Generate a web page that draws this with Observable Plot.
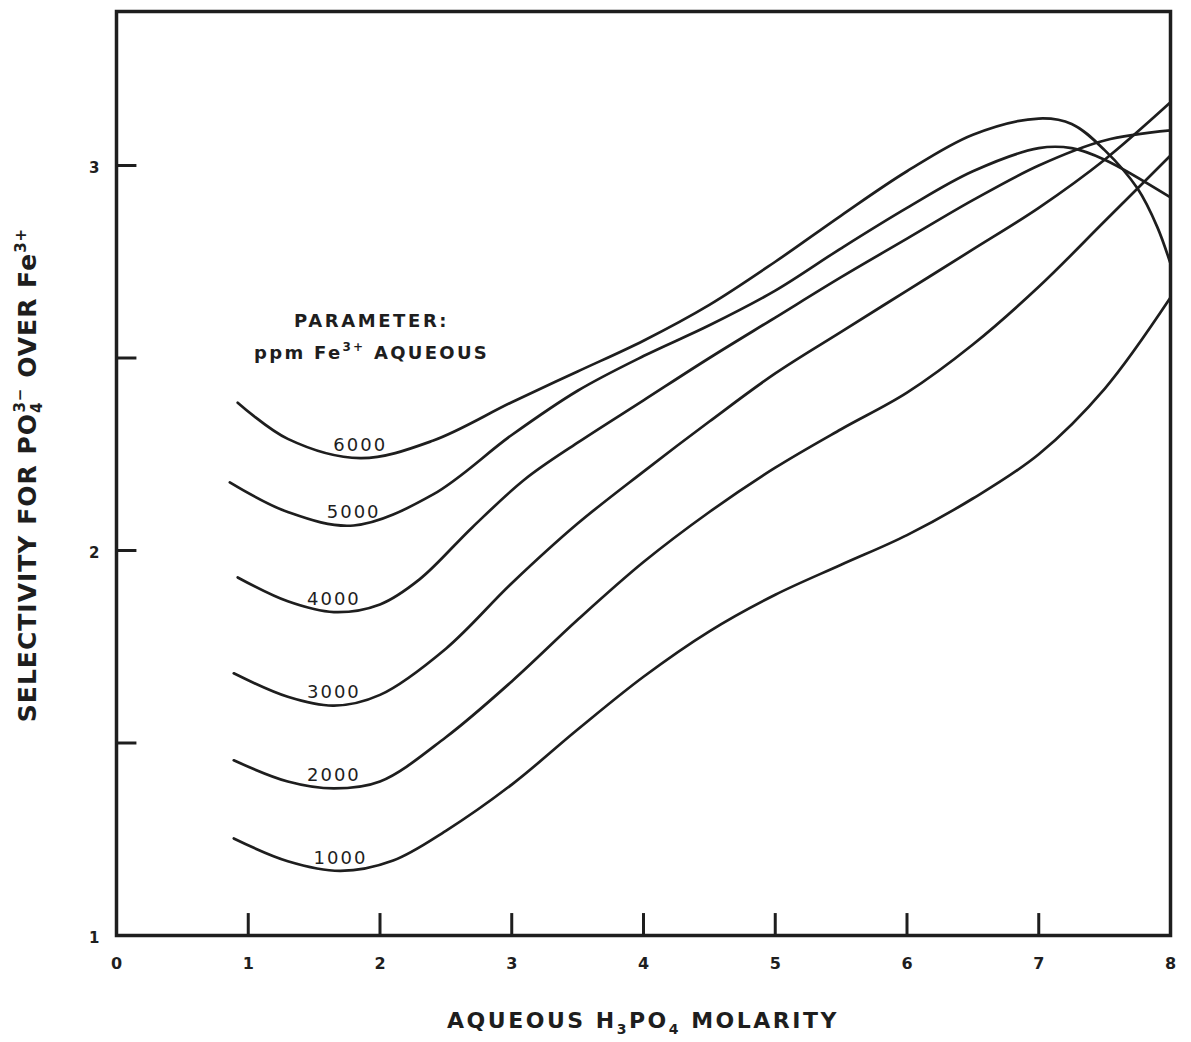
<!DOCTYPE html>
<html>
<head>
<meta charset="utf-8">
<script src="https://cdn.jsdelivr.net/npm/d3@7"></script>
<script src="https://cdn.jsdelivr.net/npm/@observablehq/plot@0.6"></script>
<style>
  body { margin: 0; background: #fff; }
  #chart svg { display: block; }
</style>
</head>
<body>
<div id="chart"></div>
<script>
// ---- data ----
const ppmLevels = [1000, 2000, 3000, 4000, 5000, 6000];

const molarity1000 = [0.89, 1.3, 1.7, 2.1, 2.5, 3.0, 3.5, 4.0, 4.5, 5.0, 5.5, 6.0, 6.5, 7.0, 7.5, 8.0];
const selectivity1000 = [1.252, 1.193, 1.168, 1.195, 1.272, 1.392, 1.535, 1.672, 1.79, 1.885, 1.963, 2.04, 2.135, 2.25, 2.42, 2.657];

const molarity2000 = [0.89, 1.3, 1.65, 2.0, 2.5, 3.0, 3.5, 4.0, 4.5, 5.0, 5.5, 6.0, 6.5, 7.0, 7.5, 8.0];
const selectivity2000 = [1.455, 1.40, 1.382, 1.40, 1.515, 1.66, 1.82, 1.97, 2.10, 2.215, 2.315, 2.41, 2.535, 2.685, 2.855, 3.026];

const molarity3000 = [0.89, 1.3, 1.65, 2.0, 2.5, 3.0, 3.5, 4.0, 4.5, 5.0, 5.5, 6.0, 6.5, 7.0, 7.5, 8.0];
const selectivity3000 = [1.681, 1.62, 1.597, 1.625, 1.745, 1.915, 2.07, 2.205, 2.335, 2.46, 2.568, 2.675, 2.782, 2.89, 3.015, 3.164];

const molarity4000 = [0.92, 1.3, 1.65, 2.0, 2.3, 2.7, 3.1, 3.5, 4.0, 4.5, 5.0, 5.5, 6.0, 6.5, 7.0, 7.5, 8.0];
const selectivity4000 = [1.93, 1.868, 1.84, 1.86, 1.925, 2.06, 2.185, 2.28, 2.39, 2.50, 2.605, 2.71, 2.81, 2.91, 3.0, 3.065, 3.091];

const molarity5000 = [0.86, 1.3, 1.8, 2.4, 3.0, 3.5, 4.0, 4.5, 5.0, 5.5, 6.0, 6.5, 7.0, 7.25, 7.5, 8.0];
const selectivity5000 = [2.177, 2.10, 2.065, 2.145, 2.30, 2.415, 2.505, 2.585, 2.675, 2.785, 2.89, 2.985, 3.045, 3.045, 3.015, 2.917];

const molarity6000 = [0.92, 1.3, 1.85, 2.4, 3.0, 3.5, 4.0, 4.5, 5.0, 5.5, 6.0, 6.5, 7.0, 7.25, 7.5, 7.75, 7.9, 8.0];
const selectivity6000 = [2.384, 2.29, 2.24, 2.285, 2.385, 2.465, 2.545, 2.638, 2.75, 2.87, 2.985, 3.08, 3.122, 3.108, 3.04, 2.94, 2.84, 2.745];

const xTickLabels = [0, 1, 2, 3, 4, 5, 6, 7, 8];
const xTickMarks = [1, 2, 3, 4, 5, 6, 7];
const yTickLabels = [1, 2, 3];
const yTickMarks = [1.5, 2, 2.5, 3];

// ---- build tables ----
const molarityBy = {1000: molarity1000, 2000: molarity2000, 3000: molarity3000, 4000: molarity4000, 5000: molarity5000, 6000: molarity6000};
const selectivityBy = {1000: selectivity1000, 2000: selectivity2000, 3000: selectivity3000, 4000: selectivity4000, 5000: selectivity5000, 6000: selectivity6000};

const rows = ppmLevels.flatMap(p => molarityBy[p].map((m, i) => ({ppm: p, molarity: m, selectivity: selectivityBy[p][i]})));
const curveLabels = ppmLevels.map(p => {
  const i = d3.minIndex(selectivityBy[p]);
  return {molarity: molarityBy[p][i], selectivity: selectivityBy[p][i], label: String(p)};
});

const ink = "#1e1e1e";

const chart = Plot.plot({
  width: 1191,
  height: 1042,
  marginLeft: 116,
  marginRight: 21,
  marginTop: 11,
  marginBottom: 107,
  x: {domain: [0, 8], axis: null},
  y: {domain: [1, 3.4], axis: null},
  style: {background: "#fff", color: ink, fontFamily: "'DejaVu Sans', sans-serif"},
  marks: [
    Plot.ruleX(xTickMarks, {x: d => d, y1: 1, y2: 1.057, stroke: ink, strokeWidth: 3}),
    Plot.ruleY(yTickMarks, {y: d => d, x1: 0, x2: 0.155, stroke: ink, strokeWidth: 3}),
    Plot.frame({stroke: ink, strokeWidth: 3.5}),
    Plot.text(xTickLabels, {x: d => d, frameAnchor: "bottom", dy: 33, text: d => String(d),
      fontSize: 16, fontWeight: "bold", fill: ink}),
    Plot.text(yTickLabels, {y: d => d, frameAnchor: "left", dx: -17, dy: 3, textAnchor: "end",
      text: d => String(d), fontSize: 15, fontWeight: "bold", fill: ink}),
    Plot.line(rows, {x: "molarity", y: "selectivity", z: "ppm", curve: "catmull-rom",
      stroke: ink, strokeWidth: 2.7}),
    Plot.text(curveLabels, {x: "molarity", y: "selectivity", text: "label", dy: -13,
      fontSize: 18, fill: ink})
  ]
});

document.getElementById("chart").appendChild(chart);

const svg = d3.select(chart);
const sx = chart.scale("x"), sy = chart.scale("y");

// letter spacing for curve labels
svg.selectAll("text").filter(function() { return /^\d000$/.test(this.textContent); })
  .attr("letter-spacing", "2px");

const boldFont = "'DejaVu Sans', sans-serif";

// legend
const legendX = sx.apply(1.94);
svg.append("text")
  .attr("x", legendX).attr("y", sy.apply(2.58))
  .attr("text-anchor", "middle")
  .attr("font-family", boldFont).attr("font-weight", "bold").attr("font-size", 18)
  .attr("letter-spacing", "2.6px").attr("fill", ink)
  .text("PARAMETER:");
const leg2 = svg.append("text")
  .attr("x", legendX).attr("y", sy.apply(2.495))
  .attr("text-anchor", "middle")
  .attr("font-family", boldFont).attr("font-weight", "bold").attr("font-size", 18)
  .attr("letter-spacing", "2.3px").attr("fill", ink);
leg2.append("tspan").text("ppm Fe");
leg2.append("tspan").attr("dy", -8).attr("font-size", 12).text("3+");
leg2.append("tspan").attr("dy", 8).text(" AQUEOUS");

// x-axis title
const xt = svg.append("text")
  .attr("x", sx.apply(4)).attr("y", 1028)
  .attr("text-anchor", "middle")
  .attr("font-family", boldFont).attr("font-weight", "bold").attr("font-size", 22)
  .attr("letter-spacing", "2.5px").attr("fill", ink);
xt.append("tspan").text("AQUEOUS H");
xt.append("tspan").attr("dy", 6).attr("font-size", 14).text("3");
xt.append("tspan").attr("dy", -6).text("PO");
xt.append("tspan").attr("dy", 6).attr("font-size", 14).text("4");
xt.append("tspan").attr("dy", -6).text(" MOLARITY");

// y-axis title
const yt = svg.append("text")
  .attr("transform", `translate(36,${(sy.apply(1) + sy.apply(3.4)) / 2 + 2}) rotate(-90)`)
  .attr("text-anchor", "middle")
  .attr("font-family", boldFont).attr("font-weight", "bold").attr("font-size", 25)
  .attr("letter-spacing", "1px").attr("fill", ink);
yt.append("tspan").text("SELECTIVITY FOR PO");
yt.append("tspan").attr("dy", 6).attr("font-size", 15).text("4");
yt.append("tspan").attr("dx", -11).attr("dy", -17).attr("font-size", 15).text("3−");
yt.append("tspan").attr("dy", 11).text(" OVER Fe");
yt.append("tspan").attr("dy", -10).attr("font-size", 15).text("3+");
</script>
</body>
</html>
